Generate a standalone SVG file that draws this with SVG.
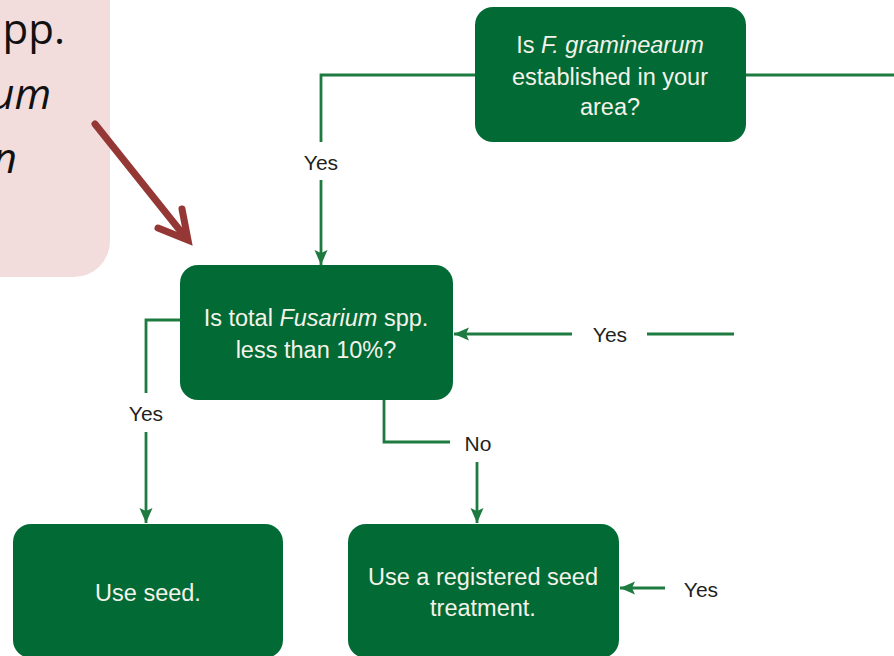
<svg xmlns="http://www.w3.org/2000/svg" width="894" height="656" viewBox="0 0 894 656">
<style>
.box{fill:#026a35;}
.bt{fill:#f4f3ea;font-family:"Liberation Sans",Arial,sans-serif;font-size:23.5px;text-anchor:middle;}
.lbl{fill:#231f20;font-family:"Liberation Sans",Arial,sans-serif;font-size:21px;text-anchor:middle;}
.ln{fill:none;stroke:#1e7b40;stroke-width:2.8;}
.call{fill:#111;font-family:"Open Sans","Liberation Sans",sans-serif;font-size:42px;text-anchor:end;}
</style>
<defs>
<marker id="ah" markerUnits="userSpaceOnUse" markerWidth="16" markerHeight="14" refX="15" refY="7" orient="auto" viewBox="0 0 16 14">
<path d="M0,0.5 L15,7 L0,13.5 L3,7 Z" fill="#1e7b40"/>
</marker>
</defs>
<g id="callout">
<rect x="-40" y="-40" width="150" height="317" rx="36" fill="#f2dcdc"/>
<text class="call" x="65" y="44">pp.</text>
<text class="call" x="51" y="109" font-style="italic">um</text>
<text class="call" x="17" y="173" font-style="italic">n</text>
<g id="callout-arrow" fill="none" stroke="#953735" stroke-width="7" stroke-linecap="round" stroke-linejoin="miter">
<line x1="95" y1="124" x2="186" y2="238"/>
<polyline points="182,209 188,240 158,228"/>
</g>
</g>
<g id="connectors">
<polyline class="ln" points="475,75 321,75 321,142"/>
<line class="ln" x1="321" y1="180" x2="321" y2="265" marker-end="url(#ah)"/>
<text class="lbl" x="321" y="170">Yes</text>
<line class="ln" x1="746" y1="75" x2="894" y2="75"/>
<polyline class="ln" points="180,320 146,320 146,393"/>
<line class="ln" x1="146" y1="432" x2="146" y2="523" marker-end="url(#ah)"/>
<text class="lbl" x="146" y="421">Yes</text>
<polyline class="ln" points="384,400 384,442 450,442"/>
<text class="lbl" x="478" y="451">No</text>
<line class="ln" x1="477" y1="462" x2="477" y2="523" marker-end="url(#ah)"/>
<line class="ln" x1="734" y1="334" x2="647" y2="334"/>
<line class="ln" x1="572" y1="334" x2="454" y2="334" marker-end="url(#ah)"/>
<text class="lbl" x="610" y="342">Yes</text>
<line class="ln" x1="665" y1="588" x2="620" y2="588" marker-end="url(#ah)"/>
<text class="lbl" x="701" y="597">Yes</text>
</g>
<g id="node-established">
<rect class="box" x="475" y="7" width="271" height="135" rx="18"/>
<text class="bt" x="610" y="53">Is <tspan font-style="italic">F. graminearum</tspan></text>
<text class="bt" x="610" y="85">established in your</text>
<text class="bt" x="610" y="115">area?</text>
</g>
<g id="node-total">
<rect class="box" x="180" y="265" width="273" height="135" rx="18"/>
<text class="bt" x="316" y="326">Is total <tspan font-style="italic">Fusarium</tspan> spp.</text>
<text class="bt" x="316" y="358">less than 10%?</text>
</g>
<g id="node-useseed">
<rect class="box" x="13" y="524" width="270" height="134" rx="18"/>
<text class="bt" x="148" y="601">Use seed.</text>
</g>
<g id="node-treatment">
<rect class="box" x="348" y="524" width="271" height="134" rx="18"/>
<text class="bt" x="483" y="585">Use a registered seed</text>
<text class="bt" x="483" y="616">treatment.</text>
</g>
</svg>
